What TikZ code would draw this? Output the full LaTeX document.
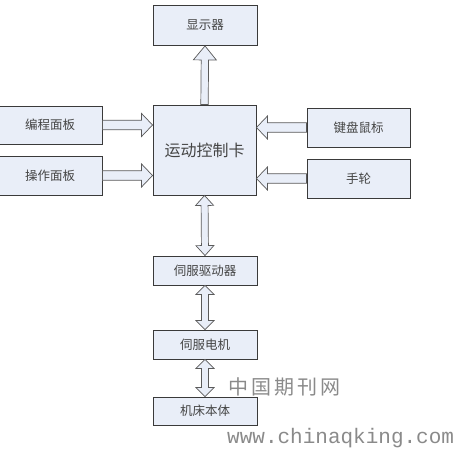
\documentclass[tikz,border=0pt]{standalone}
\usepackage{fontspec}
\setmainfont{Noto Sans CJK SC}
\newfontfamily\wmmono{Liberation Mono}
\usetikzlibrary{calc}
\definecolor{boxfill}{HTML}{E9EEF8}
\definecolor{boxdraw}{HTML}{3A3A3A}
\definecolor{arrdraw}{HTML}{5A5A5A}
\definecolor{txt}{HTML}{444444}
\definecolor{wm}{HTML}{8A8A8A}
\tikzset{
  blk/.style={draw=boxdraw, fill=boxfill, line width=0.9pt, inner sep=0pt,
    text=txt, font=\fontsize{12.5}{14}\selectfont},
  fat/.style={draw=arrdraw, fill=boxfill, line width=0.7pt, line join=miter},
}
% single fat arrow from #1 to #2: shaft half width #3, head half width #4, head length #5
\newcommand{\fatsingle}[5]{%
  \coordinate (fsA) at (#1); \coordinate (fsB) at (#2);
  \coordinate (fsH) at ($(fsB)!#5!(fsA)$);
  \draw[fat] ($(fsA)!#3!90:(fsB)$) -- ($(fsH)!#3!90:(fsB)$) -- ($(fsH)!#4!90:(fsB)$)
    -- (fsB) -- ($(fsH)!#4!-90:(fsB)$) -- ($(fsH)!#3!-90:(fsB)$) -- ($(fsA)!#3!-90:(fsB)$) -- cycle;
}
\newcommand{\fatdouble}[5]{%
  \coordinate (fdA) at (#1); \coordinate (fdB) at (#2);
  \coordinate (fdH) at ($(fdA)!#5!(fdB)$);
  \coordinate (fdK) at ($(fdB)!#5!(fdA)$);
  \draw[fat] (fdA) -- ($(fdH)!#4!90:(fdB)$) -- ($(fdH)!#3!90:(fdB)$) -- ($(fdK)!#3!-90:(fdA)$)
    -- ($(fdK)!#4!-90:(fdA)$) -- (fdB) -- ($(fdK)!#4!90:(fdA)$) -- ($(fdK)!#3!90:(fdA)$)
    -- ($(fdH)!#3!-90:(fdB)$) -- ($(fdH)!#4!-90:(fdB)$) -- cycle;
}
\begin{document}
\begin{tikzpicture}[x=1pt,y=-1pt]
\useasboundingbox (0,0) rectangle (454,450);
\node[blk, minimum width=104pt, minimum height=40pt] (disp) at (205,25.5) {显示器};
\node[blk, minimum width=103pt, minimum height=90pt, font=\fontsize{16}{18}\selectfont] (main) at (204.5,150) {运动控制卡};
\node[blk, minimum width=104pt, minimum height=38pt] (p1) at (50,125) {编程面板};
\node[blk, minimum width=104pt, minimum height=39pt] (p2) at (50,175.5) {操作面板};
\node[blk, minimum width=103pt, minimum height=39pt] (kb) at (358.5,127.5) {键盘鼠标};
\node[blk, minimum width=103pt, minimum height=39pt] (hw) at (358.5,178.5) {手轮};
\node[blk, minimum width=104pt, minimum height=29pt] (drv) at (205,270.5) {伺服驱动器};
\node[blk, minimum width=104pt, minimum height=29pt] (mot) at (205,344.5) {伺服电机};
\node[blk, minimum width=104pt, minimum height=28pt] (bed) at (205,411) {机床本体};

\fatsingle{main.north}{disp.south}{3.7pt}{11.5pt}{14pt}
\fatsingle{p1.east}{p1.east -| main.west}{4.8pt}{11.5pt}{11pt}
\fatsingle{p2.east}{p2.east -| main.west}{4.8pt}{11.5pt}{11pt}
\fatsingle{kb.west}{kb.west -| main.east}{4.8pt}{11.5pt}{11pt}
\fatsingle{hw.west}{hw.west -| main.east}{4.8pt}{11.5pt}{11pt}
\fatdouble{main.south}{drv.north}{3.5pt}{9pt}{10pt}
\fatdouble{drv.south}{mot.north}{3.5pt}{9pt}{9pt}
\fatdouble{mot.south}{bed.north}{3.5pt}{9pt}{9pt}

\node[text=wm, font=\fontsize{20}{22}\selectfont, inner sep=0pt, anchor=west] (wm1) at (228,387) {中\hspace{3pt}国\hspace{3pt}期\hspace{3pt}刊\hspace{3pt}网};
\node[text=wm, font=\wmmono\fontsize{21}{23}\selectfont, inner sep=0pt, anchor=base west] (wm2) at (227,443) {www.chinaqking.com};
\end{tikzpicture}
\end{document}
